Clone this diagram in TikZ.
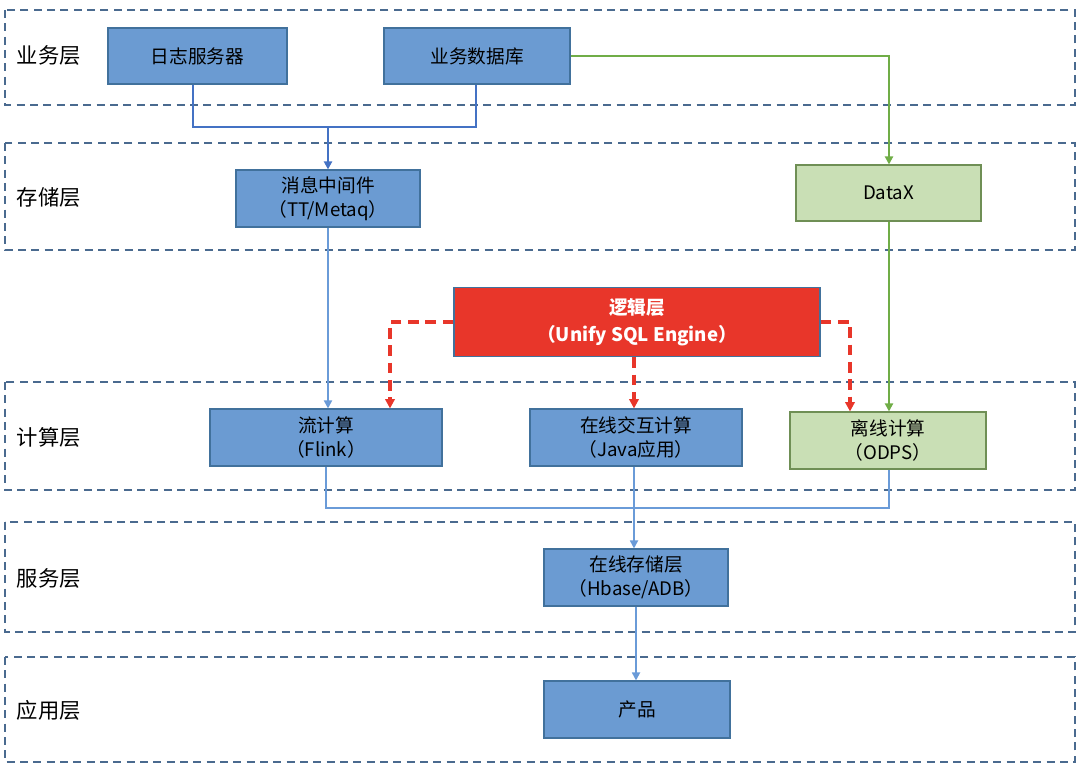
\documentclass[tikz,border=0pt]{standalone}
\usepackage{fontspec}
\setmainfont{Noto Sans CJK SC}
\usetikzlibrary{arrows.meta}
\definecolor{bfill}{HTML}{6B9BD2}
\definecolor{bdraw}{HTML}{41719C}
\definecolor{gfill}{HTML}{C9DFB5}
\definecolor{gdraw}{HTML}{6F8F55}
\definecolor{rfill}{HTML}{E8362A}
\definecolor{lay}{HTML}{4A6A8F}
\definecolor{lineA}{HTML}{4472C4}
\definecolor{lineB}{HTML}{6A9BD8}
\definecolor{lineG}{HTML}{70AD47}
\begin{document}
\begin{tikzpicture}[x=0.75pt,y=-0.75pt,
  layer/.style={draw=lay,line width=1.3pt,dash pattern=on 6pt off 4pt},
  ltxt/.style={anchor=west,font=\fontsize{16}{18}\selectfont},
  box/.style={draw=bdraw,fill=bfill,line width=0.8pt,inner sep=0pt,align=center,font=\fontsize{14}{18}\selectfont},
  gbox/.style={draw=gdraw,fill=gfill,line width=0.8pt,inner sep=0pt,align=center,font=\fontsize{14}{18}\selectfont},
  ar/.style={-{Triangle[length=6pt,width=6pt]}},
  bl/.style={draw=lineB,line width=1.3pt},
  rd/.style={draw=rfill,line width=2.3pt,dash pattern=on 8pt off 5pt,-{Triangle[length=7pt,width=7pt]}}]
\useasboundingbox (0,0) rectangle (1080,766);
\draw[layer] (5,10) rectangle (1075,105);
\draw[layer] (5,143) rectangle (1075,250);
\draw[layer] (5,382) rectangle (1075,490);
\draw[layer] (5,522) rectangle (1075,632);
\draw[layer] (5,657) rectangle (1075,762);
\node[ltxt] (l1) at (12,55) {业务层};
\node[ltxt] (l2) at (12,197) {存储层};
\node[ltxt] (l3) at (12,437) {计算层};
\node[ltxt] (l4) at (12,578) {服务层};
\node[ltxt] (l5) at (12,710) {应用层};
\def\bx#1#2#3#4#5#6#7{\node[#2,minimum width={(#5-#3)*0.75pt},minimum height={(#6-#4)*0.75pt}] (#1) at ({(#3+#5)/2},{(#4+#6)/2}) {#7};}
\bx{log}{box}{108}{28}{287}{84}{日志服务器}
\bx{db}{box}{384}{28}{570}{84}{业务数据库}
\bx{mq}{box}{236}{170}{420}{227}{消息中间件\\（TT/Metaq）}
\bx{dx}{gbox}{796}{165}{981}{221}{DataX}
\node[draw=bdraw,fill=rfill,text=white,line width=0.8pt,inner sep=0pt,align=center,font=\fontsize{14}{20}\selectfont\bfseries,minimum width=274.5pt,minimum height=52pt] (lg) at (637,322) {逻辑层\\（Unify SQL Engine）};
\bx{fl}{box}{210}{409}{442}{466}{流计算\\（Flink）}
\bx{ja}{box}{530}{409}{742}{466}{在线交互计算\\（Java应用）}
\bx{od}{gbox}{790}{412}{986}{469}{离线计算\\（ODPS）}
\bx{hb}{box}{544}{549}{728}{606}{在线存储层\\（Hbase/ADB）}
\bx{pr}{box}{544}{681}{730}{738}{产品}
\coordinate (j1) at (328,127);
\draw[lineA,line width=1.5pt] (log.south -| 193,0) |- (j1) -| (db.south -| 476,0);
\draw[lineA,line width=1.5pt,ar] (j1) -- (mq.north -| 328,0);
\draw[lineG,line width=1.5pt,ar] (db.east) -| (dx.north -| 889,0);
\draw[lineG,line width=1.5pt,ar] (dx.south -| 889,0) -- (od.north -| 889,0);
\draw[bl,ar] (mq.south -| 328,0) -- (fl.north -| 328,0);
\draw[rd] (lg.west) -| (fl.north -| 390,0);
\draw[rd] (lg.south -| 634,0) -- (ja.north -| 634,0);
\draw[rd] (lg.east) -| (od.north -| 850,0);
\coordinate (j2) at (634,508);
\draw[bl] (fl.south -| 326,0) |- (j2) -| (od.south -| 889,0);
\draw[bl,ar] (ja.south -| 634,0) -- (hb.north -| 634,0);
\draw[bl,ar] (hb.south -| 636,0) -- (pr.north -| 636,0);
\end{tikzpicture}
\end{document}
